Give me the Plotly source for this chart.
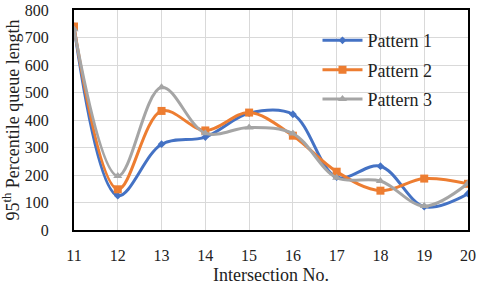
import plotly.graph_objects as go

intersections = [11, 12, 13, 14, 15, 16, 17, 18, 19, 20]
pattern1 = [740, 125, 312, 338, 425, 421, 192, 232, 85, 132]
pattern2 = [740, 148, 433, 362, 427, 343, 212, 143, 187, 168]
pattern3 = [730, 196, 519, 352, 373, 351, 190, 178, 87, 170]

series = [
    ("Pattern 1", pattern1, "#4472C4", "diamond", 6),
    ("Pattern 2", pattern2, "#ED7D31", "square", 8),
    ("Pattern 3", pattern3, "#A5A5A5", "triangle-up", 8),
]

fig = go.Figure()
for name, vals, color, sym, size in series:
    fig.add_trace(go.Scatter(
        x=intersections, y=vals, name=name, mode="lines+markers",
        legendgroup=name,
        line=dict(color=color, width=3, shape="spline", smoothing=1.0),
        marker=dict(symbol=sym, size=size, color=color),
    ))

font = dict(family="Liberation Serif, Times New Roman, serif", size=16, color="#222")
fig.update_layout(
    width=480, height=285,
    margin=dict(l=74, r=12, t=10, b=55),
    paper_bgcolor="white", plot_bgcolor="white",
    font=font,
    showlegend=True,
    legend=dict(x=0.618, y=0.945, xanchor="left", yanchor="top",
                bgcolor="rgba(255,255,255,0)", font=dict(size=18),
                itemwidth=40, tracegroupgap=3),
)
fig.update_xaxes(
    range=[11, 20], tickmode="array", tickvals=intersections,
    ticktext=[str(v) for v in intersections],
    showgrid=True, gridcolor="#D9D9D9", gridwidth=1,
    showline=True, linecolor="black", linewidth=2, mirror=True,
    ticks="outside", ticklen=10, tickcolor="rgba(0,0,0,0)", tickfont=dict(size=16),
    title=dict(text="Intersection No.", standoff=9, font=dict(size=18)),
    zeroline=False, automargin=False, ticklabeloverflow="allow",
)
fig.update_yaxes(
    range=[0, 800], dtick=100,
    showgrid=True, gridcolor="#D9D9D9", gridwidth=1,
    showline=True, linecolor="black", linewidth=2, mirror=True,
    ticks="outside", ticklen=20, tickcolor="rgba(0,0,0,0)", tickfont=dict(size=16),
    title=dict(text="95<sup>th</sup> Percentile queue length", standoff=2, font=dict(size=18)),
    zeroline=False, automargin=False, ticklabeloverflow="allow",
)
fig.write_html("out.html", post_script="document.body.style.margin='0';",
               config={"displayModeBar": False})
